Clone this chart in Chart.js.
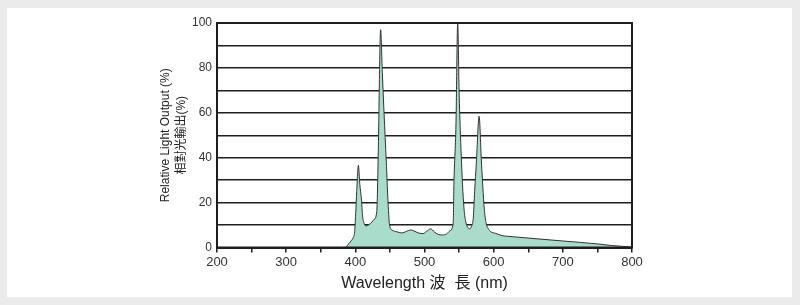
<!DOCTYPE html>
<html>
<head>
<meta charset="utf-8">
<script src="https://cdn.jsdelivr.net/npm/chart.js@4/dist/chart.umd.min.js"></script>
<style>
  html, body { margin: 0; padding: 0; background: #ebebeb; }
  #panel { position: absolute; left: 7px; top: 8px; width: 785px; height: 289px; background: #fff; }
  #wrap { position: absolute; left: 0; top: 0; width: 800px; height: 305px; }
</style>
</head>
<body>
<div id="panel"></div>
<div id="wrap"><canvas id="myChart" width="800" height="305"></canvas></div>
<script>
// spectrum (nm, %)
const wavelengths = [
    385, 387, 390, 394, 397, 399, 400.5, 402, 404.4, 406.5, 408.7, 410.5, 413, 416, 420, 424, 427, 431, 433, 436.6,
    439, 441.5, 444.8, 447, 449.5, 453, 460, 467, 474, 480, 486, 492, 498, 503, 509, 514, 520, 526, 532, 537,
    541.5, 542.5, 545.5, 548, 550, 552, 553.5, 555.5, 557.5, 560, 562.5, 565, 568, 570.5, 572.5, 575, 579, 582, 584.3, 586.5,
    589, 592, 596, 603, 612, 620, 650, 700, 750, 770, 800
];
const relativeOutput = [
    0, 0.3, 1.5, 3, 4.5, 7, 15, 25, 36.6, 28, 22, 14, 10.5, 9.6, 10.3, 11.3, 12.5, 16, 40, 97,
    78, 60, 38, 22, 10, 7.8, 7, 6.5, 7.2, 7.8, 7.2, 6.4, 6.2, 7.2, 8.3, 7, 5.8, 5.6, 6, 7.5,
    11, 28, 55, 100, 70, 50, 38, 25, 16, 11, 9, 8.3, 9.5, 13, 25, 38, 58.5, 40, 27, 17,
    11, 8.5, 7, 6.3, 5.3, 5, 4.2, 2.9, 1.6, 0.9, 0.2
];
const xTickLabels = [200, 300, 400, 500, 600, 700, 800];
const yTickLabels = [0, 20, 40, 60, 80, 100];
const yTitle = ['Relative Light Output (%)', '相對光輸出(%)'];
const xTitle = 'Wavelength 波  長 (nm)';

const fontFamily = '"Liberation Sans", Arial, "Noto Sans CJK TC", sans-serif';
const ink = '#1e1e1e';

const frame = {
    id: 'frame',
    afterDatasetsDraw(chart) {
        const { ctx, chartArea: a } = chart;
        ctx.save();
        ctx.strokeStyle = ink;
        ctx.lineWidth = 2;
        ctx.strokeRect(a.left, a.top, a.right - a.left, a.bottom - a.top);
        ctx.restore();
    }
};

function createChart() {
    const ctx = document.getElementById('myChart').getContext('2d');
    const points = wavelengths.map((w, i) => ({ x: w, y: relativeOutput[i] }));

    new Chart(ctx, {
        type: 'line',
        data: {
            datasets: [{
                data: points,
                borderColor: '#333',
                borderWidth: 1,
                backgroundColor: '#a9dccb',
                fill: 'origin',
                pointRadius: 0,
                cubicInterpolationMode: 'monotone'
            }]
        },
        options: {
            responsive: false,
            animation: false,
            layout: { padding: { left: 0, top: 23, right: 168, bottom: 0 } },
            plugins: { legend: { display: false }, tooltip: { enabled: false } },
            scales: {
                x: {
                    type: 'linear',
                    min: 200,
                    max: 800,
                    afterFit: s => { s.height = 57.5; },
                    ticks: {
                        stepSize: 50,
                        autoSkip: false,
                        maxRotation: 0,
                        padding: 2,
                        color: '#333',
                        font: { family: fontFamily, size: 13 },
                        callback: v => xTickLabels.includes(v) ? String(v) : ''
                    },
                    grid: { drawOnChartArea: false, drawTicks: true, tickLength: 5, color: ink, lineWidth: 1.5 },
                    border: { display: true, color: ink, width: 2 },
                    title: {
                        display: true,
                        text: xTitle,
                        color: '#222',
                        font: { family: fontFamily, size: 16 },
                        padding: { top: 0, bottom: 12 }
                    }
                },
                y: {
                    min: 0,
                    max: 100,
                    afterFit: s => { s.width = 217; },
                    ticks: {
                        stepSize: 10,
                        padding: 5,
                        color: '#333',
                        font: { family: fontFamily, size: 12 },
                        callback: v => yTickLabels.includes(v) ? String(v) : ''
                    },
                    grid: { drawTicks: false, color: ink, lineWidth: 1.5 },
                    border: { display: true, color: ink, width: 2 },
                    title: {
                        display: true,
                        text: yTitle,
                        color: '#222',
                        font: { family: fontFamily, size: 12, lineHeight: 1.3 },
                        padding: { top: 158, bottom: 0 }
                    }
                }
            }
        },
        plugins: [frame]
    });
}

document.addEventListener('DOMContentLoaded', createChart);
</script>
</body>
</html>
